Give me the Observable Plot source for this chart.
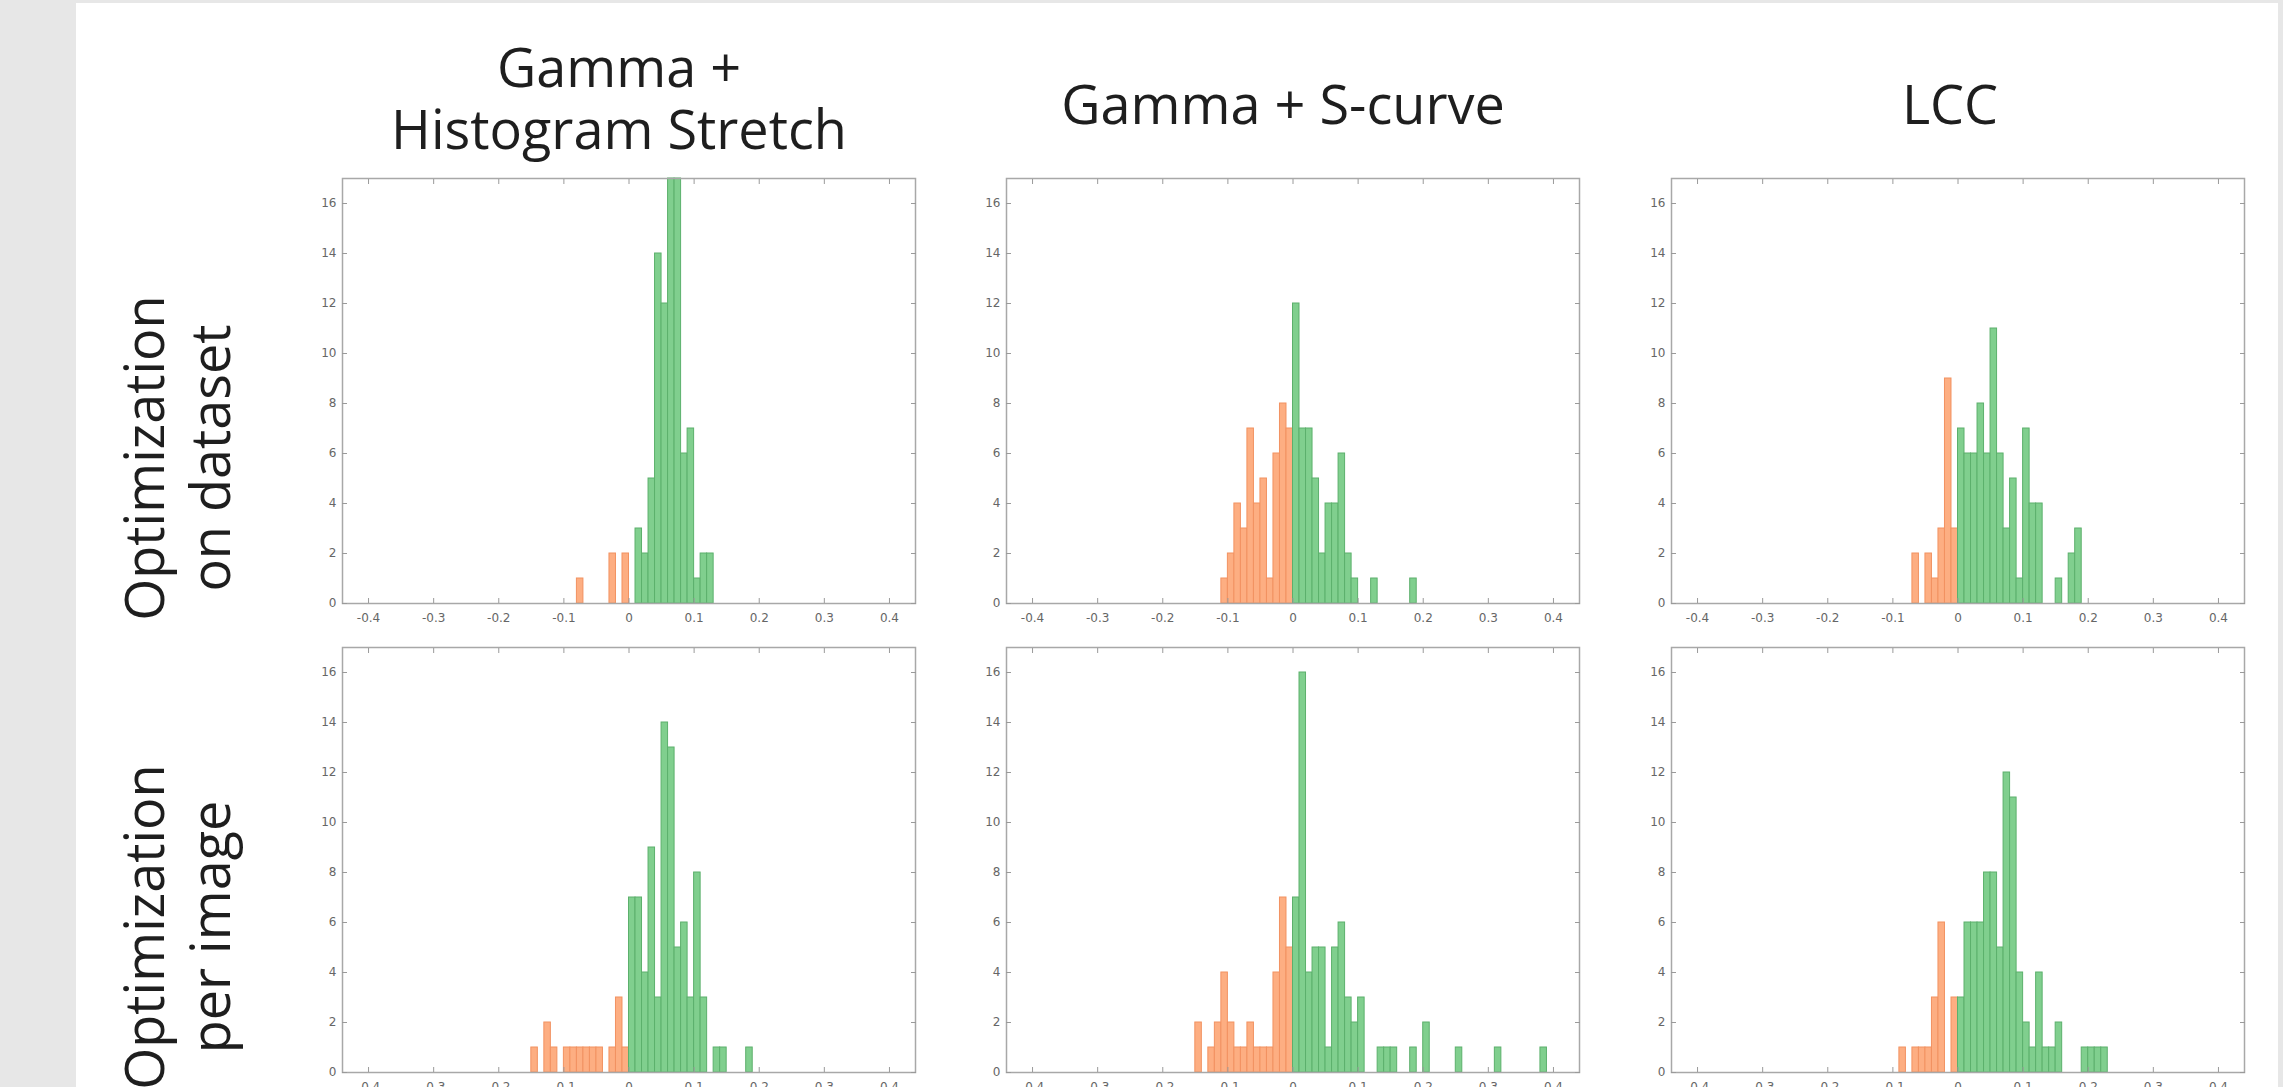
<!DOCTYPE html>
<html>
<head>
<meta charset="utf-8">
<script src="https://cdn.jsdelivr.net/npm/d3@7"></script>
<script src="https://cdn.jsdelivr.net/npm/@observablehq/plot@0.6"></script>
<style>
  html, body { margin: 0; padding: 0; width: 2283px; height: 1087px; overflow: hidden; background: #e7e7e7; }
  #sheet { position: absolute; left: 76px; top: 3px; width: 2202px; height: 1084px; background: #ffffff; }
  .panel { position: absolute; }
  .panel svg { max-width: none; display: block; overflow: visible; }
  #overlay { position: absolute; left: 0; top: 0; pointer-events: none; }
</style>
</head>
<body>
<div id="sheet"></div>
<div id="root"></div>
<script>
// ---------------- text ----------------
const columnTitles = [["Gamma +", "Histogram Stretch"], ["Gamma + S-curve"], ["LCC"]];
const rowTitles = [["Optimization", "on dataset"], ["Optimization", "per image"]];

// ---------------- axes ----------------
const xTicks = [-0.4, -0.3, -0.2, -0.1, 0, 0.1, 0.2, 0.3, 0.4];
const yTicks = [0, 2, 4, 6, 8, 10, 12, 14, 16];
const xDomain = [-0.44, 0.44];
const yDomain = [0, 17];
const binWidth = 0.01;

// ---------------- data: bin left edges (in hundredths) and counts ----------------
// Row 1: Optimization on dataset
const hsDatasetBins   = [-8, -3, -1, 1, 2, 3, 4, 5, 6, 7, 8, 9, 10, 11, 12];
const hsDatasetCounts = [ 1,  2,  2, 3, 2, 5, 14, 12, 17, 17, 6, 7, 1, 2, 2];

const scDatasetBins   = [-11, -10, -9, -8, -7, -6, -5, -4, -3, -2, -1, 0, 1, 2, 3, 4, 5, 6, 7, 8, 9, 12, 18];
const scDatasetCounts = [  1,   2,  4,  3,  7,  4,  5,  1,  6,  8,  7, 12, 7, 7, 5, 2, 4, 4, 6, 2, 1, 1, 1];

const lccDatasetBins   = [-7, -5, -4, -3, -2, -1, 0, 1, 2, 3, 4, 5, 6, 7, 8, 9, 10, 11, 12, 15, 17, 18];
const lccDatasetCounts = [ 2,  2,  1,  3,  9,  3, 7, 6, 6, 8, 6, 11, 6, 3, 5, 1, 7, 4, 4, 1, 2, 3];

// Row 2: Optimization per image
const hsImageBins   = [-15, -13, -12, -10, -9, -8, -7, -6, -5, -3, -2, -1, 0, 1, 2, 3, 4, 5, 6, 7, 8, 9, 10, 11, 13, 14, 18];
const hsImageCounts = [  1,   2,   1,   1,  1,  1,  1,  1,  1,  1,  3,  1, 7, 7, 4, 9, 3, 14, 13, 5, 6, 3, 8, 3, 1, 1, 1];

const scImageBins   = [-15, -13, -12, -11, -10, -9, -8, -7, -6, -5, -4, -3, -2, -1, 0, 1, 2, 3, 4, 5, 6, 7, 8, 9, 10, 13, 14, 15, 18, 20, 25, 31, 38];
const scImageCounts = [  2,   1,   2,   4,   2,  1,  1,  2,  1,  1,  1,  4,  7,  5, 7, 16, 4, 5, 5, 1, 5, 6, 3, 2, 3, 1, 1, 1, 1, 2, 1, 1, 1];

const lccImageBins   = [-9, -7, -6, -5, -4, -3, -1, 0, 1, 2, 3, 4, 5, 6, 7, 8, 9, 10, 11, 12, 13, 14, 15, 19, 20, 21, 22];
const lccImageCounts = [ 1,  1,  1,  1,  3,  6,  3, 3, 6, 6, 6, 8, 8, 5, 12, 11, 4, 2, 1, 4, 1, 1, 2, 1, 1, 1, 1];

const panels = [
  {row: 0, col: 0, bins: hsDatasetBins,  counts: hsDatasetCounts},
  {row: 0, col: 1, bins: scDatasetBins,  counts: scDatasetCounts},
  {row: 0, col: 2, bins: lccDatasetBins, counts: lccDatasetCounts},
  {row: 1, col: 0, bins: hsImageBins,    counts: hsImageCounts},
  {row: 1, col: 1, bins: scImageBins,    counts: scImageCounts},
  {row: 1, col: 2, bins: lccImageBins,   counts: lccImageCounts}
];

// ---------------- layout & style ----------------
const FRAME_W = 573, FRAME_H = 425;
const colLeft = [342, 1006, 1671];
const rowTop = [178, 647];
const ML = 44, MR = 12, MT = 12, MB = 34;
const GREEN = "#80cf8e", GREEN_EDGE = "#5cb06c";
const ORANGE = "#fdae82", ORANGE_EDGE = "#f29261";
const AXIS_GREY = "#9a9a9a", LABEL_GREY = "#666666";

const fmt = d => d === 0 ? "0" : String(d);

const root = document.getElementById("root");
for (const p of panels) {
  const data = p.bins.map((b, i) => ({x1: b * binWidth, x2: (b + 1) * binWidth, count: p.counts[i]}));
  const chart = Plot.plot({
    width: FRAME_W + ML + MR,
    height: FRAME_H + MT + MB,
    marginLeft: ML, marginRight: MR, marginTop: MT, marginBottom: MB,
    style: {fontFamily: "DejaVu Sans", background: "transparent", overflow: "visible"},
    x: {domain: xDomain},
    y: {domain: yDomain},
    color: {type: "identity"},
    marks: [
      Plot.rect(data, {
        x1: "x1", x2: "x2", y1: 0, y2: "count",
        fill: d => d.x1 < 0 ? ORANGE : GREEN,
        stroke: d => d.x1 < 0 ? ORANGE_EDGE : GREEN_EDGE,
        strokeWidth: 1
      }),
      Plot.frame({stroke: "#a8a8a8", strokeWidth: 1.5}),
      Plot.axisX(xTicks, {anchor: "bottom", tickSize: -5, tickPadding: 15, tickFormat: fmt,
        stroke: AXIS_GREY, fill: LABEL_GREY, fontSize: 12, label: null}),
      Plot.axisX(xTicks, {anchor: "top", tickSize: -5, stroke: AXIS_GREY, fill: "none", label: null}),
      Plot.axisY(yTicks, {anchor: "left", tickSize: -5, tickPadding: 11, tickFormat: fmt,
        stroke: AXIS_GREY, fill: LABEL_GREY, fontSize: 12, label: null}),
      Plot.axisY(yTicks, {anchor: "right", tickSize: -5, stroke: AXIS_GREY, fill: "none", label: null})
    ]
  });
  const div = document.createElement("div");
  div.className = "panel";
  div.style.left = (colLeft[p.col] - ML) + "px";
  div.style.top = (rowTop[p.row] - MT) + "px";
  div.style.width = (FRAME_W + ML + MR) + "px";
  div.style.height = (FRAME_H + MT + MB) + "px";
  div.appendChild(chart);
  root.appendChild(div);
}

// ---------------- titles & row labels ----------------
const overlay = d3.select("body").append("svg")
  .attr("id", "overlay").attr("width", 2283).attr("height", 1087)
  .style("font-family", "'Open Sans'").style("font-size", "54px");

const titleX = [619, 1283, 1950];
const titleBaselines = {1: [124], 2: [87, 149]};
columnTitles.forEach((lines, c) => {
  lines.forEach((t, i) => {
    overlay.append("text")
      .attr("x", titleX[c]).attr("y", titleBaselines[lines.length][i])
      .attr("text-anchor", "middle").attr("fill", "#1e1e1e").text(t);
  });
});

const rowLabelX = [164, 230];
const rowLabelY = [458, 927];
rowTitles.forEach((lines, r) => {
  lines.forEach((t, i) => {
    overlay.append("text")
      .attr("transform", `translate(${rowLabelX[i]},${rowLabelY[r]}) rotate(-90)`)
      .attr("text-anchor", "middle").attr("fill", "#1e1e1e").text(t);
  });
});
</script>
</body>
</html>
